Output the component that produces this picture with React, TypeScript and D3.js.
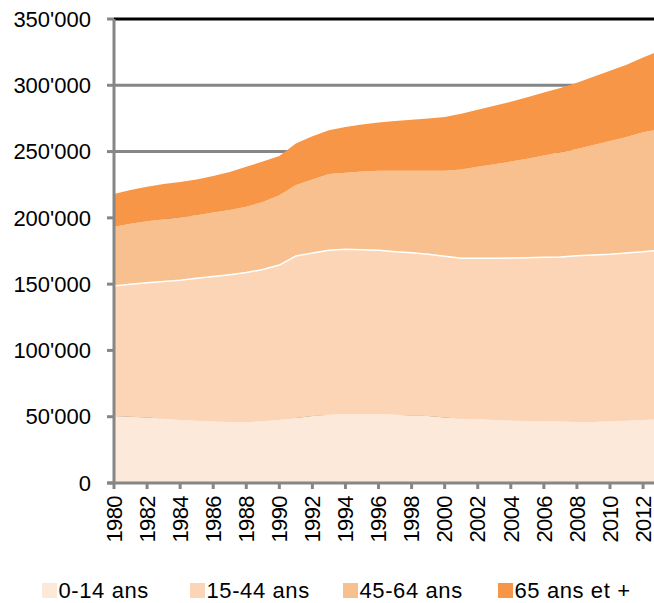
import React from 'react';
import * as d3 from 'd3';

// population by age group, in thousands
const years = d3.range(1980, 2014);
const series = ['0-14 ans', '15-44 ans', '45-64 ans', '65 ans et +'];
const colors = ['#FDE9D9', '#FBD5B5', '#F9C08F', '#F79646'];

const age0_14 = [50.5, 50, 49.5, 48.5, 47.5, 47, 46.3, 46, 45.8, 46.5, 47.5, 49, 50.5, 51.5, 52, 52, 52, 51.5, 51, 50.5, 49.5, 48.5, 48, 47.5, 47, 46.8, 46.5, 46.3, 46, 46, 46.5, 47, 47.5, 48];
const age15_44 = [98.1, 100, 101.5, 103.5, 105.5, 107.4, 109.5, 111, 112.9, 114.5, 116.9, 122.2, 123, 124, 124.3, 124, 123.5, 123, 122.7, 122, 121.5, 121, 121.5, 122, 122.8, 123.2, 123.7, 124.2, 125.5, 126, 126, 126.5, 127, 127.5];
const age45_64 = [44.7, 45.5, 46.5, 47, 47.5, 47.6, 48.2, 49, 49.7, 51, 52.6, 53.6, 55.5, 57.5, 57.7, 59, 60, 61, 61.8, 63, 64.5, 67, 69, 71, 72.7, 74.5, 76.8, 79, 80.5, 83, 85.5, 87.5, 90, 91.5];
const age65 = [24.7, 25.5, 26, 26.5, 26.5, 27, 27.5, 28.5, 30.2, 30.5, 29.7, 31.2, 32.5, 33, 34.5, 35.5, 36.5, 37.5, 38.5, 39.5, 40.5, 42, 43, 44, 45, 46.5, 47.5, 48.5, 50, 51.4, 53, 54.5, 56.5, 59];

const yTicks = [0, 50, 100, 150, 200, 250, 300, 350];
const xTicks = d3.range(1980, 2013, 2);

const W = 654;
const H = 603;
const left = 114;
const bottom = 483;
const top = 19;

export default function App() {
  const x = d3.scaleLinear().domain([1980, 2013]).range([left, 659.6]);
  const y = d3.scaleLinear().domain([0, 350]).range([bottom, top]);

  const table = years.map((yr, i) => ({
    year: yr,
    [series[0]]: age0_14[i],
    [series[1]]: age15_44[i],
    [series[2]]: age45_64[i],
    [series[3]]: age65[i],
  }));
  const stacked = d3.stack<any>().keys(series)(table);

  const area = d3.area<any>()
    .x((d) => x(d.data.year))
    .y0((d) => y(d[0]))
    .y1((d) => y(d[1]));
  const topLine = d3.line<any>()
    .x((d) => x(d.data.year))
    .y((d) => y(d[1]));

  const fmt = (v: number) => (v === 0 ? '0' : d3.format(',')(v * 1000).replace(/,/g, "'"));
  const font = 'Arial, "Liberation Sans", sans-serif';

  return (
    <div style={{ position: 'absolute', left: 0, top: 0 }}>
      <svg width={W} height={H} style={{ display: 'block' }}>
        {/* gridlines */}
        {yTicks.filter((t) => t > 0 && t < 350).map((t) => (
          <line key={t} x1={left} x2={W} y1={y(t)} y2={y(t)} stroke="#868686" strokeWidth={3} />
        ))}
        {stacked.map((s, i) => (
          <path key={s.key} d={area(s) || ''} fill={colors[i]} />
        ))}
        <path d={topLine(stacked[1]) || ''} fill="none" stroke="#fff" strokeWidth={1.5} />
        <line x1={left} x2={W} y1={y(350)} y2={y(350)} stroke="#000" strokeWidth={3} />

        {/* y axis */}
        <line x1={left} x2={left} y1={y(350)} y2={bottom} stroke="#868686" strokeWidth={3} />
        {yTicks.map((t) => (
          <g key={t}>
            <line x1={107} x2={left} y1={y(t)} y2={y(t)} stroke="#868686" strokeWidth={3} />
            <text x={91} y={y(t)} dy="0.35em" textAnchor="end" fontFamily={font} fontSize={22} fill="#000">
              {fmt(t)}
            </text>
          </g>
        ))}

        {/* x axis */}
        <line x1={left - 7} x2={W} y1={bottom} y2={bottom} stroke="#868686" strokeWidth={3} />
        {xTicks.map((t) => (
          <g key={t}>
            <line x1={x(t)} x2={x(t)} y1={bottom} y2={bottom + 6} stroke="#868686" strokeWidth={3} />
            <text
              transform={`translate(${x(t)},${bottom + 13}) rotate(-90)`}
              dy="0.35em"
              textAnchor="end"
              fontFamily={font}
              fontSize={22}
              letterSpacing={-0.6}
              fill="#000"
            >
              {t}
            </text>
          </g>
        ))}

        {/* legend */}
        {series.map((s, i) => {
          const lx = [42, 190, 343, 498][i];
          return (
            <g key={s} transform={`translate(${lx},583)`}>
              <rect x={0} y={0} width={15} height={15} fill={colors[i]} />
              <text x={16.5} y={15} fontFamily={font} fontSize={22} letterSpacing={0.6} fill="#000">
                {s}
              </text>
            </g>
          );
        })}
      </svg>
    </div>
  );
}
